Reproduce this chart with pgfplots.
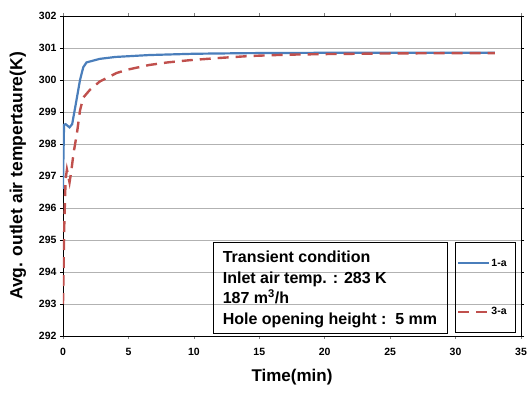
\documentclass[border=0pt]{standalone}
\usepackage{fontspec}
\setmainfont{Liberation Sans}
\usepackage{pgfplots}
\pgfplotsset{compat=1.18}
\definecolor{xlblue}{RGB}{74,126,187}
\definecolor{xlred}{RGB}{192,80,77}
\begin{document}
\begin{tikzpicture}
\useasboundingbox (-63bp,-57bp) rectangle (465bp,336bp);
\begin{axis}[
  scale only axis, width=458bp, height=320bp,
  at={(0,0)}, anchor=south west,
  xmin=0, xmax=35, ymin=292, ymax=302,
  xtick={0,5,...,35}, ytick={292,293,...,302},
  ymajorgrids, grid style={gray!60, line width=0.8pt},
  axis line style={black, line width=0.9pt},
  tick align=outside, tick style={black, line width=0.6pt}, major tick length=3bp,
  xtick style={draw=gray},
  ticklabel style={font=\fontsize{10.5bp}{12bp}\selectfont\bfseries},
  /pgf/number format/assume math mode=true,
  /pgf/number format/1000 sep={},
  xticklabel style={yshift=-6bp},
  xlabel={Time(min)}, ylabel={Avg. outlet air tempertaure(K)},
  xlabel style={font=\fontsize{17bp}{19bp}\selectfont\bfseries, yshift=-6bp},
  ylabel style={font=\fontsize{17.5bp}{20bp}\selectfont\bfseries, yshift=6bp},
  legend style={draw=none, fill=none, at={(axis cs:30.1,294.45)}, anchor=north west,
    font=\fontsize{10.5bp}{12bp}\selectfont\bfseries, row sep=38bp, inner sep=0pt,
    nodes={inner sep=1bp}},
  legend cell align=left,
  legend image code/.code={\draw[#1] (0bp,0bp) -- (31bp,0bp);},
]
\addplot[xlblue, line width=2.2pt] coordinates {
(0,296.6) (0.03,297.5) (0.08,298.6) (0.2,298.62) (0.5,298.52) (0.7,298.62)
(1.0,299.3) (1.3,300.0) (1.55,300.4) (1.8,300.55) (2.8,300.66) (4,300.72)
(6.6,300.78) (10,300.82) (14.3,300.84) (20,300.85) (25,300.85) (33,300.85)
};
\addlegendentry{1-a}
\addplot[xlred, line width=2.4pt, dash pattern=on 11bp off 7bp] coordinates {
(0,293.0) (0.1,295.5) (0.2,296.9) (0.3,297.2) (0.4,297.0) (0.5,296.8)
(0.65,297.2) (0.8,297.7) (1.07,298.35) (1.3,299.05) (1.55,299.45) (2.05,299.69)
(2.8,299.95) (4.1,300.22) (5,300.33) (6.6,300.47) (8,300.55) (9.7,300.62)
(12,300.69) (14.3,300.75) (17,300.79) (20,300.81) (25,300.83) (30,300.84) (33,300.84)
};
\addlegendentry{3-a}
\draw[black, line width=0.8pt] (axis cs:11.46,294.91) rectangle (axis cs:29.35,292.09);
\draw[black, line width=0.8pt] (axis cs:29.95,294.91) rectangle (axis cs:34.55,292.12);
\node[anchor=north west, inner sep=0pt, align=left,
  font=\fontsize{16bp}{20.5bp}\selectfont\bfseries]
  at (axis cs:12.2,294.65) {Transient condition\\Inlet air temp. : 283 K\\187 m\textsuperscript{3}/h\\Hole opening height :\ \ 5 mm};
\end{axis}
\end{tikzpicture}
\end{document}
